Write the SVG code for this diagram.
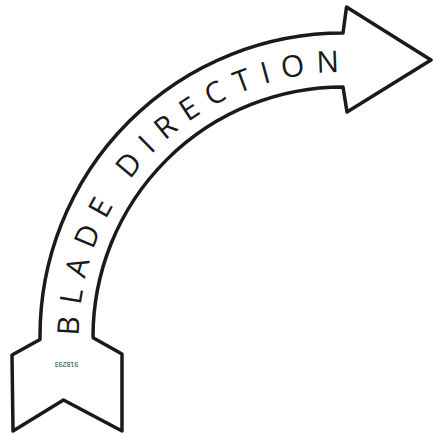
<svg xmlns="http://www.w3.org/2000/svg" width="433" height="435" viewBox="0 0 433 435">
  <style>
    .outline { fill: #ffffff; stroke: #1a1a1a; stroke-width: 3.5; stroke-linejoin: round; }
    .label { font-family: "Open Sans", "Liberation Sans", sans-serif; font-size: 30px; font-weight: 400; fill: #1a1a1a; letter-spacing: 11.1px; }
    .code { font-family: "Liberation Sans", Arial, sans-serif; font-size: 7px; fill: #333333; }
  </style>
  <defs>
    <path id="textArc" d="M 79 336 A 264 264 0 0 1 343 72"/>
  </defs>
  <rect width="433" height="435" fill="#ffffff"/>
  <g id="arrow">
    <path class="outline" d="M 40 336 A 303 303 0 0 1 343 33 L 346.5 7 L 431 60 L 347 112 L 343 87 A 250 250 0 0 0 93 336 L 93.5 338 L 122 354 L 122 431 L 63.5 400 L 13 431 L 12 355 L 40 339.5 Z"/>
  </g>
  <g id="label">
    <text class="label"><textPath href="#textArc" startOffset="0">BLADE DIRECTION</textPath></text>
  </g>
  <g id="code">
    <text class="code" x="66.5" y="367" text-anchor="middle" transform="rotate(180 66.5 364.5)">918293</text>
  </g>
</svg>
